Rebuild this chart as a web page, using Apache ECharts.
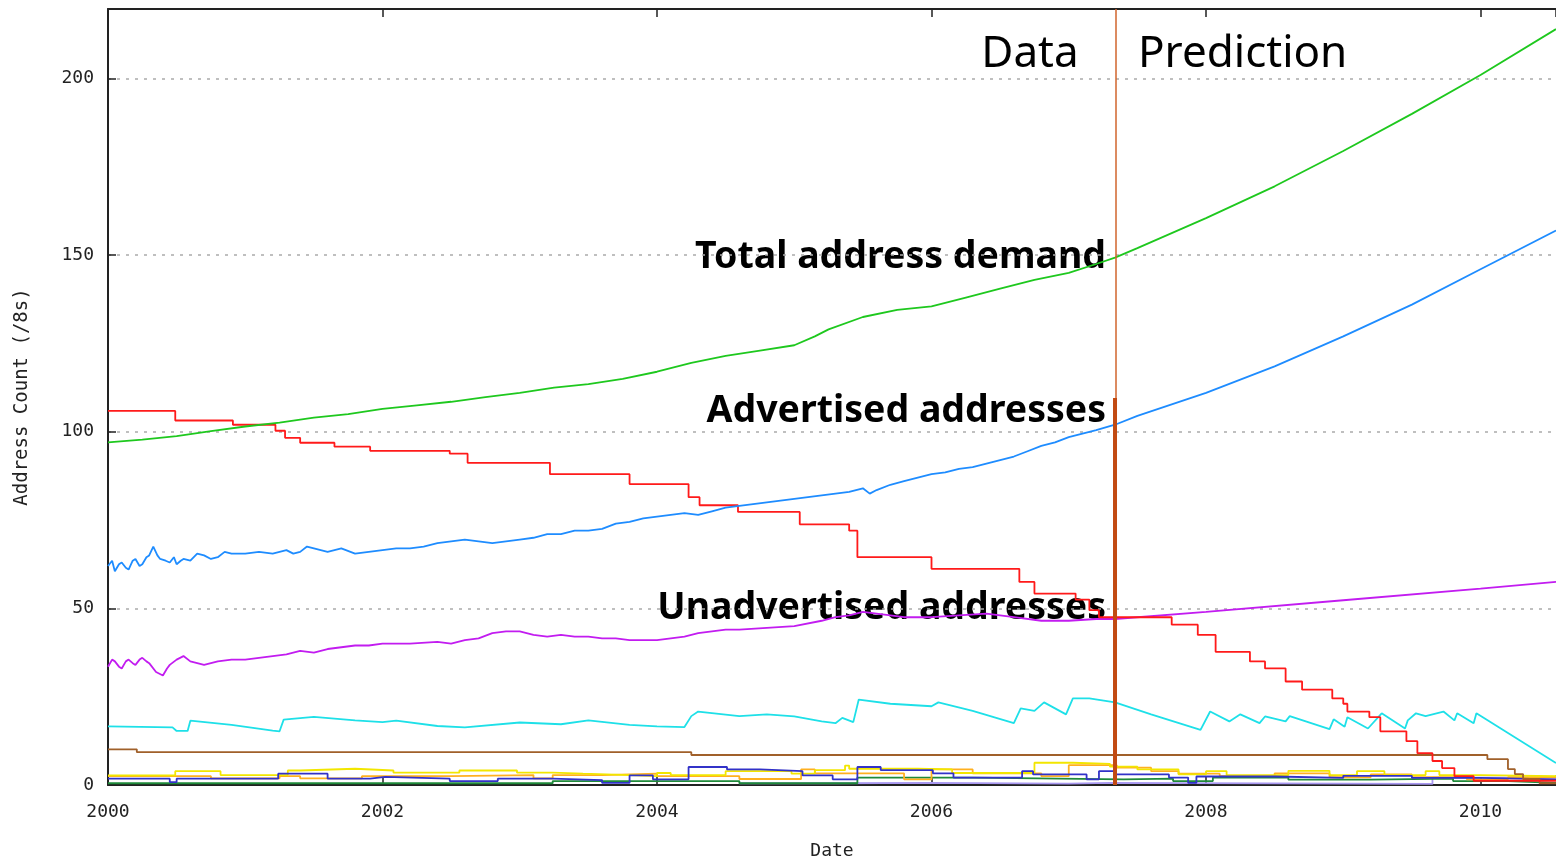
<html>
<head>
<meta charset="utf-8">
<title>Address demand</title>
<script src="https://cdn.jsdelivr.net/npm/echarts@6/dist/echarts.min.js"></script>
<style>
  html, body { margin: 0; padding: 0; background: #fff; overflow: hidden; }
  #main { width: 100vw; height: 100vh; }
</style>
</head>
<body>
<div id="main"></div>
<script type="text/javascript">
// boundary between measured data and prediction
var splitYear = 2007.337;
var splitBarTop = 109.6;

var xTicks = [2000, 2002, 2004, 2006, 2008, 2010];

// [year, /8 count]
var totalDemand = [
  [2000.0, 97], [2000.25, 97.8], [2000.5, 98.8], [2000.75, 100.2], [2001.0, 101.5], [2001.25, 102.6],
  [2001.5, 104], [2001.75, 105], [2002.0, 106.5], [2002.25, 107.5], [2002.5, 108.5], [2002.75, 109.8],
  [2003.0, 111], [2003.25, 112.5], [2003.5, 113.5], [2003.75, 115], [2004.0, 117], [2004.25, 119.5],
  [2004.5, 121.5], [2004.75, 123], [2005.0, 124.5], [2005.15, 127], [2005.25, 129], [2005.5, 132.5],
  [2005.75, 134.5], [2006.0, 135.5], [2006.25, 138], [2006.5, 140.5], [2006.75, 143], [2007.0, 145],
  [2007.2, 147.5], [2007.337, 149.3],
  [2007.5, 152], [2008.0, 160.5], [2008.5, 169.5], [2009.0, 179.5], [2009.5, 190], [2010.0, 201],
  [2010.55, 214]
];

var advertised = [
  [2000.0, 62], [2000.03, 63.5], [2000.05, 60.5], [2000.08, 62.5], [2000.1, 63], [2000.13, 61.5],
  [2000.15, 61], [2000.18, 63.5], [2000.2, 64], [2000.23, 62], [2000.25, 62.5], [2000.28, 64.5],
  [2000.3, 65], [2000.33, 67.5], [2000.36, 65], [2000.38, 64], [2000.42, 63.5], [2000.45, 63],
  [2000.48, 64.5], [2000.5, 62.5], [2000.53, 63.5], [2000.55, 64], [2000.6, 63.5], [2000.65, 65.5],
  [2000.7, 65], [2000.75, 64], [2000.8, 64.5], [2000.85, 66], [2000.9, 65.5], [2001.0, 65.5],
  [2001.1, 66], [2001.2, 65.5], [2001.3, 66.5], [2001.35, 65.5], [2001.4, 66], [2001.45, 67.5],
  [2001.5, 67], [2001.6, 66], [2001.7, 67], [2001.8, 65.5], [2001.9, 66], [2002.0, 66.5],
  [2002.1, 67], [2002.2, 67], [2002.3, 67.5], [2002.4, 68.5], [2002.5, 69], [2002.6, 69.5],
  [2002.7, 69], [2002.8, 68.5], [2002.9, 69], [2003.0, 69.5], [2003.1, 70], [2003.2, 71],
  [2003.3, 71], [2003.4, 72], [2003.5, 72], [2003.6, 72.5], [2003.7, 74], [2003.8, 74.5],
  [2003.9, 75.5], [2004.0, 76], [2004.1, 76.5], [2004.2, 77], [2004.3, 76.5], [2004.4, 77.5],
  [2004.5, 78.5], [2004.6, 79], [2004.7, 79.5], [2004.8, 80], [2004.9, 80.5], [2005.0, 81],
  [2005.1, 81.5], [2005.2, 82], [2005.3, 82.5], [2005.4, 83], [2005.5, 84], [2005.55, 82.5],
  [2005.6, 83.5], [2005.7, 85], [2005.8, 86], [2005.9, 87], [2006.0, 88], [2006.1, 88.5],
  [2006.2, 89.5], [2006.3, 90], [2006.4, 91], [2006.5, 92], [2006.6, 93], [2006.7, 94.5],
  [2006.8, 96], [2006.9, 97], [2007.0, 98.5], [2007.1, 99.5], [2007.2, 100.5], [2007.337, 102],
  [2007.5, 104.5], [2008.0, 111], [2008.5, 118.5], [2009.0, 127], [2009.5, 136], [2010.0, 146],
  [2010.55, 157]
];

var unadvertised = [
  [2000.0, 33.5], [2000.03, 35.5], [2000.05, 35], [2000.08, 33.5], [2000.1, 33], [2000.13, 35],
  [2000.15, 35.5], [2000.18, 34.5], [2000.2, 34], [2000.23, 35.5], [2000.25, 36], [2000.28, 35],
  [2000.3, 34.5], [2000.35, 32], [2000.4, 31], [2000.43, 33], [2000.45, 34], [2000.5, 35.5],
  [2000.55, 36.5], [2000.6, 35], [2000.7, 34], [2000.8, 35], [2000.9, 35.5], [2001.0, 35.5],
  [2001.1, 36], [2001.2, 36.5], [2001.3, 37], [2001.4, 38], [2001.5, 37.5], [2001.6, 38.5],
  [2001.7, 39], [2001.8, 39.5], [2001.9, 39.5], [2002.0, 40], [2002.2, 40], [2002.4, 40.5],
  [2002.5, 40], [2002.6, 41], [2002.7, 41.5], [2002.8, 43], [2002.9, 43.5], [2003.0, 43.5],
  [2003.1, 42.5], [2003.2, 42], [2003.3, 42.5], [2003.4, 42], [2003.5, 42], [2003.6, 41.5],
  [2003.7, 41.5], [2003.8, 41], [2003.9, 41], [2004.0, 41], [2004.2, 42], [2004.3, 43],
  [2004.4, 43.5], [2004.5, 44], [2004.6, 44], [2004.8, 44.5], [2005.0, 45], [2005.2, 46.5],
  [2005.3, 47.5], [2005.4, 48], [2005.5, 49], [2005.6, 48.5], [2005.7, 48], [2005.8, 47.5],
  [2005.9, 47.5], [2006.0, 47.5], [2006.2, 48], [2006.4, 48.5], [2006.6, 47.5], [2006.8, 46.5],
  [2007.0, 46.5], [2007.2, 47], [2007.337, 47],
  [2008.0, 49], [2009.0, 52.3], [2010.0, 55.6], [2010.55, 57.5]
];

// step series: value holds from this year until the next entry
var redSteps = [
  [2000.0, 105.9], [2000.49, 103.2], [2000.91, 102], [2001.22, 100.3], [2001.29, 98.3], [2001.4, 96.9],
  [2001.65, 95.8], [2001.91, 94.6], [2002.49, 93.8], [2002.62, 91.2], [2003.22, 88], [2003.8, 85.2],
  [2004.23, 81.5], [2004.31, 79.2], [2004.59, 77.3], [2005.04, 73.8], [2005.4, 72], [2005.46, 64.5],
  [2006.0, 61.2], [2006.64, 57.5], [2006.75, 54.2], [2007.05, 52.5], [2007.15, 49.5], [2007.22, 47.5],
  [2007.75, 45.4], [2007.94, 42.5], [2008.07, 37.7], [2008.32, 35], [2008.43, 33], [2008.58, 29.3],
  [2008.7, 27], [2008.92, 24.5], [2009.0, 23], [2009.03, 20.8], [2009.19, 19.2], [2009.27, 15.2],
  [2009.46, 12.4], [2009.54, 9], [2009.65, 6.8], [2009.72, 4.8], [2009.81, 2.5], [2009.95, 1.2],
  [2010.55, 1.2]
];

var cyanLine = [
  [2000.0, 16.6], [2000.47, 16.3], [2000.5, 15.3], [2000.58, 15.3], [2000.6, 18.2], [2000.9, 17],
  [2001.2, 15.4], [2001.25, 15.2], [2001.28, 18.5], [2001.5, 19.3], [2001.8, 18.3], [2002.0, 17.8],
  [2002.1, 18.2], [2002.4, 16.7], [2002.6, 16.3], [2003.0, 17.7], [2003.3, 17.2], [2003.5, 18.3],
  [2003.8, 17], [2004.0, 16.6], [2004.2, 16.4], [2004.25, 19.5], [2004.3, 20.8], [2004.6, 19.5],
  [2004.8, 20], [2005.0, 19.4], [2005.2, 18], [2005.3, 17.5], [2005.35, 19], [2005.43, 17.8],
  [2005.47, 24.2], [2005.7, 23], [2006.0, 22.3], [2006.05, 23.4], [2006.3, 21], [2006.6, 17.5],
  [2006.65, 21.7], [2006.75, 21], [2006.82, 23.4], [2006.98, 20], [2007.03, 24.5], [2007.15, 24.5],
  [2007.337, 23.4], [2007.6, 20], [2007.96, 15.6], [2008.03, 20.8], [2008.17, 18], [2008.25, 20],
  [2008.39, 17.5], [2008.43, 19.4], [2008.58, 18], [2008.61, 19.5], [2008.9, 15.8], [2008.93, 18.6],
  [2009.01, 16.5], [2009.03, 19.2], [2009.18, 16], [2009.28, 20.3], [2009.45, 16], [2009.47, 18.3],
  [2009.53, 20.3], [2009.6, 19.5], [2009.73, 20.8], [2009.81, 18.3], [2009.83, 20.3], [2009.95, 17.5],
  [2009.97, 20.3], [2010.55, 6.2]
];

var brownSteps = [
  [2000.0, 10.1], [2000.21, 9.3], [2004.25, 8.5], [2010.05, 7.3], [2010.2, 4.5], [2010.25, 3.1],
  [2010.31, 1.7], [2010.43, 0.5], [2010.55, 0.5]
];

var yellowSteps = [
  [2000.0, 2.7], [2000.49, 3.9], [2000.82, 2.8], [2001.31, 4.1], [2001.4, 4.6], [2001.8, 4.1],
  [2002.08, 3.5], [2002.56, 4.1], [2002.98, 3.5], [2003.24, 3.2], [2003.46, 2.8], [2003.8, 2.5],
  [2004.0, 3.4], [2004.1, 2.8], [2004.5, 3.9], [2004.98, 3.2], [2005.15, 4.2], [2005.37, 5.5],
  [2005.4, 4.6], [2005.9, 4.4], [2006.15, 3.4], [2006.75, 6.3], [2007.03, 6.0], [2007.3, 5.2],
  [2007.5, 4.4], [2007.8, 3.0], [2008.0, 3.9], [2008.15, 2.8], [2008.6, 4.0], [2008.9, 2.8],
  [2009.1, 3.9], [2009.3, 2.8], [2009.6, 3.9], [2009.7, 2.8], [2010.0, 2.5], [2010.55, 2.8]
];

var orangeSteps = [
  [2000.0, 2.5], [2000.75, 1.9], [2001.25, 2.5], [2001.4, 1.9], [2001.85, 2.5], [2002.5, 2.8],
  [2003.1, 1.9], [2003.24, 2.8], [2003.6, 3.2], [2004.0, 2.5], [2004.6, 1.7], [2005.05, 4.4],
  [2005.15, 3.3], [2005.8, 1.6], [2006.0, 4.4], [2006.3, 3.3], [2006.8, 2.5], [2007.0, 5.6],
  [2007.35, 4.9], [2007.6, 3.9], [2007.8, 3.2], [2008.1, 2.5], [2008.5, 3.3], [2008.9, 2.2],
  [2009.2, 3.0], [2009.5, 2.2], [2009.9, 1.6], [2010.2, 2.2], [2010.55, 2.0]
];

var navySteps = [
  [2000.0, 1.8], [2000.45, 0.8], [2000.5, 1.8], [2001.24, 3.2], [2001.6, 1.8], [2001.91, 2.3],
  [2002.02, 1.8], [2002.49, 1.1], [2002.84, 1.8], [2003.24, 1.4], [2003.6, 0.6], [2003.8, 2.7],
  [2003.97, 1.6], [2004.23, 5.1], [2004.51, 4.4], [2004.75, 3.9], [2005.06, 2.7], [2005.28, 1.6],
  [2005.46, 5.1], [2005.63, 4.2], [2006.01, 3.3], [2006.16, 2.1], [2006.66, 3.9], [2006.74, 3.0],
  [2007.13, 1.6], [2007.22, 3.9], [2007.34, 3.0], [2007.73, 2.1], [2007.87, 0.6], [2007.93, 2.4],
  [2008.5, 2.0], [2009.0, 2.6], [2009.5, 2.0], [2010.0, 1.6], [2010.55, 1.2]
];

var darkGreenSteps = [
  [2000.0, 0.5], [2003.24, 1.1], [2004.6, 0.5], [2005.46, 2.1], [2006.3, 1.6], [2007.4, 1.8],
  [2007.76, 1.1], [2008.05, 2.1], [2008.6, 1.5], [2009.2, 1.8], [2009.8, 1.1], [2010.2, 0.6],
  [2010.55, 0.6]
];

var lavenderSteps = [
  [2004.6, 0.5], [2005.3, 0.6], [2006.0, 0.4], [2007.0, 0.6], [2007.3, 0.3], [2009.65, 2.1],
  [2010.55, 2.3]
];

var splitBar = [[splitYear, 0], [splitYear, splitBarTop]];

var axisFont = 'DejaVu Sans Mono';

function lineSeries(name, data, color, step) {
  return {
    name: name,
    type: 'line',
    data: data,
    step: step ? 'end' : false,
    symbol: 'none',
    lineStyle: { color: color, width: 1.8 },
    silent: true
  };
}

var myChart = echarts.init(document.getElementById('main'));
var chartH = myChart.getHeight();

var option = {
  animation: false,
  grid: { left: 108, right: 0, top: 9, bottom: chartH - 789 },
  xAxis: [
    {
      type: 'value', min: 2000, max: 2010.55, interval: 2,
      name: 'Date', nameLocation: 'middle', nameGap: 57,
      nameTextStyle: { fontFamily: axisFont, fontSize: 18, color: '#222' },
      axisLine: { lineStyle: { color: '#222', width: 2 } },
      axisTick: { inside: true, length: 8, lineStyle: { color: '#222', width: 1.5 } },
      axisLabel: { margin: 18, showMaxLabel: false, fontFamily: axisFont, fontSize: 18, color: '#222',
                   formatter: function (v) { return xTicks.indexOf(v) >= 0 ? String(v) : ''; } },
      splitLine: { show: false }
    },
    {
      type: 'value', position: 'top', min: 2000, max: 2010.55, interval: 2,
      axisLine: { lineStyle: { color: '#222', width: 2 } },
      axisTick: { inside: true, length: 8, lineStyle: { color: '#222', width: 1.5 } },
      axisLabel: { show: false },
      splitLine: { show: false }
    }
  ],
  yAxis: {
    type: 'value', min: 0, max: 219.7, interval: 50,
    name: 'Address Count (/8s)', nameLocation: 'middle', nameGap: 76,
    nameTextStyle: { fontFamily: axisFont, fontSize: 19, color: '#222' },
    axisLine: { show: true, lineStyle: { color: '#222', width: 2 } },
    axisTick: { show: true, inside: true, length: 8, lineStyle: { color: '#222', width: 1.5 } },
    axisLabel: { margin: 14, showMaxLabel: false, fontFamily: axisFont, fontSize: 18, color: '#222' },
    splitLine: { show: true, lineStyle: { color: '#aaa', width: 1.5, type: [3, 6] } }
  },
  series: [
    lineSeries('lavender', lavenderSteps, '#a898f0', true),
    lineSeries('darkgreen', darkGreenSteps, '#1f8a3a', true),
    lineSeries('orange', orangeSteps, '#ffb020', true),
    lineSeries('yellow', yellowSteps, '#f2e600', true),
    lineSeries('navy', navySteps, '#3232c8', true),
    lineSeries('brown', brownSteps, '#a0602a', true),
    lineSeries('cyan', cyanLine, '#1ee0e8', false),
    lineSeries('Unadvertised addresses', unadvertised, '#c21cf0', false),
    lineSeries('red', redSteps, '#ff1a1a', true),
    lineSeries('Advertised addresses', advertised, '#1e8cff', false),
    lineSeries('Total address demand', totalDemand, '#1ec81e', false),
    {
      name: 'split',
      type: 'line',
      data: splitBar,
      symbol: 'none',
      lineStyle: { color: '#c24a12', width: 4 },
      z: 5,
      markLine: {
        symbol: 'none',
        silent: true,
        label: { show: false },
        lineStyle: { type: 'solid', color: '#d0642c', width: 1.5 },
        data: [{ xAxis: splitYear }]
      }
    }
  ],
  graphic: [
    { type: 'text', x: 1030, y: 54, style: { text: 'Data', font: '44px "Noto Sans"', fill: '#000', textAlign: 'center', textVerticalAlign: 'middle' } },
    { type: 'text', x: 1138, y: 54, style: { text: 'Prediction', font: '44px "Noto Sans"', fill: '#000', textAlign: 'left', textVerticalAlign: 'middle' } },
    { type: 'text', x: 1106, y: 257, style: { text: 'Total address demand', font: 'bold 37.5px "Noto Sans"', fill: '#000', textAlign: 'right', textVerticalAlign: 'middle' } },
    { type: 'text', x: 1106, y: 411, style: { text: 'Advertised addresses', font: 'bold 37.5px "Noto Sans"', fill: '#000', textAlign: 'right', textVerticalAlign: 'middle' } },
    { type: 'text', x: 1106, y: 608, style: { text: 'Unadvertised addresses', font: 'bold 37.5px "Noto Sans"', fill: '#000', textAlign: 'right', textVerticalAlign: 'middle' } }
  ]
};

myChart.setOption(option);
</script>
</body>
</html>
